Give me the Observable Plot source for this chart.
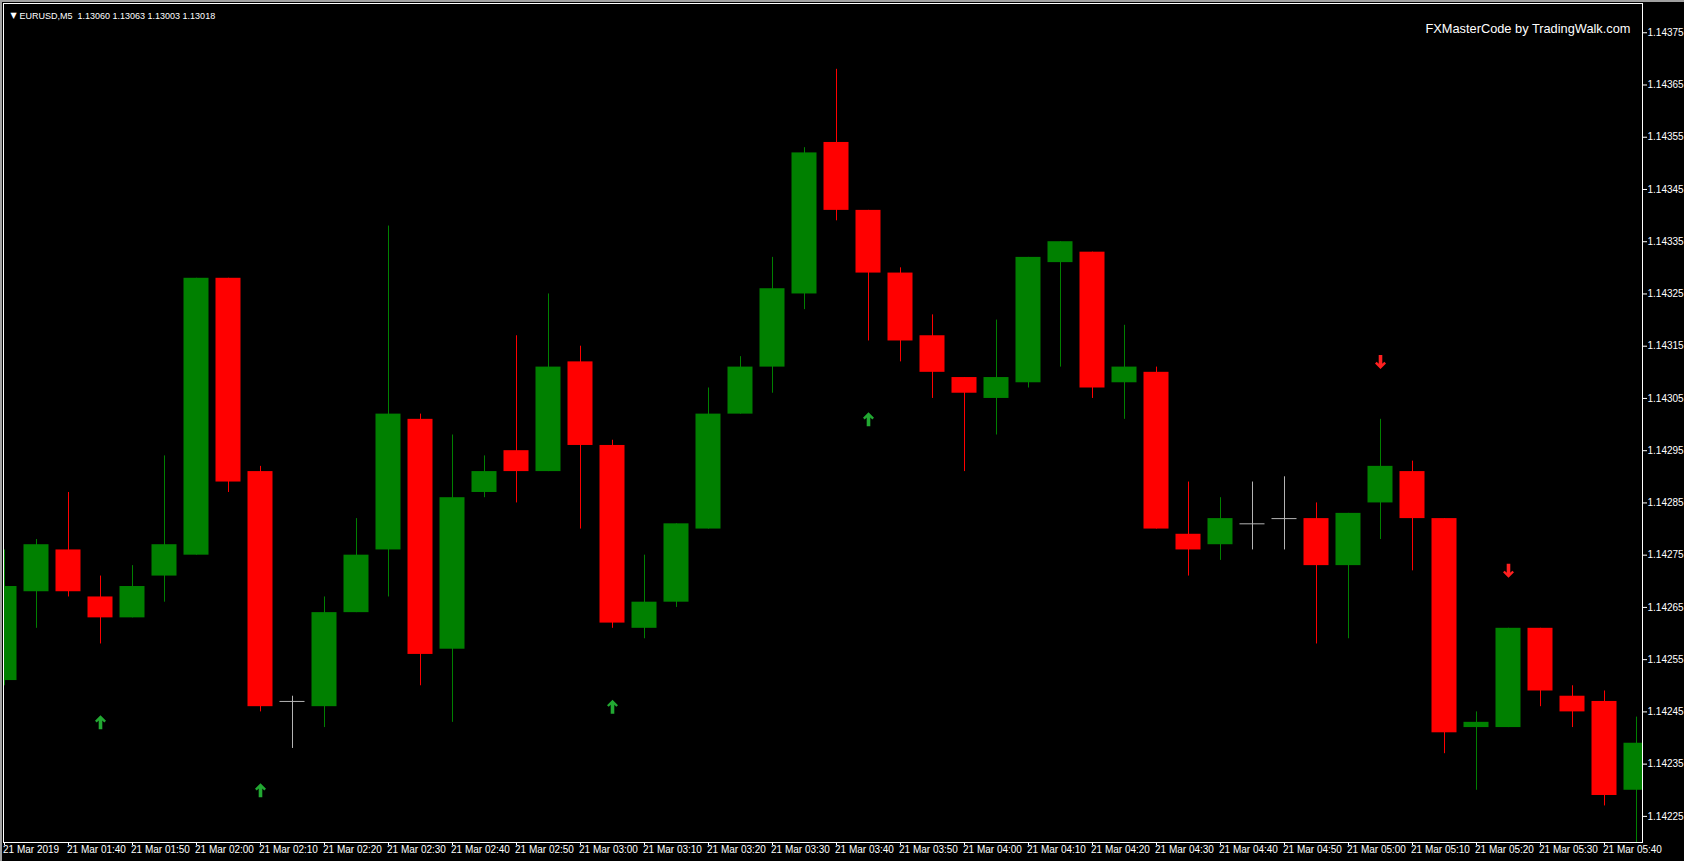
<!DOCTYPE html>
<html><head><meta charset="utf-8">
<script src="https://cdn.jsdelivr.net/npm/d3@7"></script>
<script src="https://cdn.jsdelivr.net/npm/@observablehq/plot@0.6"></script>
<style>
html,body{margin:0;padding:0;background:#000;}
#wrap{position:relative;width:1684px;height:861px;overflow:hidden;background:#000;}
#wrap svg{display:block;}
#edge{position:absolute;left:0;top:0;right:0;bottom:0;border-top:2px solid #a0a0a0;border-left:2px solid #a0a0a0;pointer-events:none;}
</style></head><body>
<div id="wrap"><div id="edge"></div></div>
<script>
// M5 bars, EURUSD, 21 Mar 2019
const times = ["01:30","01:35","01:40","01:45","01:50","01:55","02:00","02:05","02:10","02:15",
  "02:20","02:25","02:30","02:35","02:40","02:45","02:50","02:55","03:00","03:05",
  "03:10","03:15","03:20","03:25","03:30","03:35","03:40","03:45","03:50","03:55",
  "04:00","04:05","04:10","04:15","04:20","04:25","04:30","04:35","04:40","04:45",
  "04:50","04:55","05:00","05:05","05:10","05:15","05:20","05:25","05:30","05:35",
  "05:40","05:45"];
const open = [1.14251,1.14268,1.14276,1.14267,1.14263,1.14271,1.14275,1.14328,1.14291,1.14247,
  1.14246,1.14264,1.14276,1.14301,1.14257,1.14287,1.14295,1.14291,1.14312,1.14296,
  1.14261,1.14266,1.14280,1.14302,1.14311,1.14325,1.14354,1.14341,1.14329,1.14317,
  1.14309,1.14305,1.14308,1.14331,1.14333,1.14308,1.14310,1.14279,1.14277,1.14281,
  1.14282,1.14282,1.14273,1.14285,1.14291,1.14282,1.14242,1.14242,1.14261,1.14248,
  1.14247,1.14230];
const high = [1.14276,1.14278,1.14287,1.14271,1.14273,1.14294,1.14328,1.14328,1.14292,1.14248,
  1.14267,1.14282,1.14338,1.14302,1.14298,1.14294,1.14317,1.14325,1.14315,1.14297,
  1.14275,1.14281,1.14307,1.14313,1.14332,1.14353,1.14368,1.14341,1.14330,1.14321,
  1.14309,1.14320,1.14332,1.14335,1.14333,1.14319,1.14311,1.14289,1.14286,1.14289,
  1.14290,1.14285,1.14283,1.14301,1.14293,1.14282,1.14245,1.14261,1.14261,1.14250,
  1.14249,1.14244];
const low = [1.14250,1.14261,1.14267,1.14258,1.14263,1.14266,1.14275,1.14287,1.14245,1.14238,
  1.14242,1.14264,1.14267,1.14250,1.14243,1.14286,1.14285,1.14291,1.14280,1.14261,
  1.14259,1.14265,1.14280,1.14302,1.14306,1.14322,1.14339,1.14316,1.14312,1.14305,
  1.14291,1.14298,1.14307,1.14311,1.14305,1.14301,1.14280,1.14271,1.14274,1.14276,
  1.14276,1.14258,1.14259,1.14278,1.14272,1.14237,1.14230,1.14242,1.14246,1.14242,
  1.14227,1.14210];
const close = [1.14269,1.14277,1.14268,1.14263,1.14269,1.14277,1.14328,1.14289,1.14246,1.14247,
  1.14264,1.14275,1.14302,1.14256,1.14286,1.14291,1.14291,1.14311,1.14296,1.14262,
  1.14266,1.14281,1.14302,1.14311,1.14326,1.14352,1.14341,1.14329,1.14316,1.14310,
  1.14306,1.14309,1.14332,1.14335,1.14307,1.14311,1.14280,1.14276,1.14282,1.14281,
  1.14282,1.14273,1.14283,1.14292,1.14282,1.14241,1.14243,1.14261,1.14249,1.14245,
  1.14229,1.14239];

// signal arrows (bar index, price level)
const upArrowBars = [3, 8, 19, 27];
const upArrowPrices = [1.14243, 1.14230, 1.14246, 1.14301];
const downArrowBars = [43, 47];
const downArrowPrices = [1.14312, 1.14272];

// axis ticks
const yTicks = [1.14225,1.14235,1.14245,1.14255,1.14265,1.14275,1.14285,1.14295,
  1.14305,1.14315,1.14325,1.14335,1.14345,1.14355,1.14365,1.14375];
const xTickBars = [0,2,4,6,8,10,12,14,16,18,20,22,24,26,28,30,32,34,36,38,40,42,44,46,48,50];
const xTickLabels = ["21 Mar 2019","21 Mar 01:40","21 Mar 01:50","21 Mar 02:00","21 Mar 02:10",
  "21 Mar 02:20","21 Mar 02:30","21 Mar 02:40","21 Mar 02:50","21 Mar 03:00","21 Mar 03:10",
  "21 Mar 03:20","21 Mar 03:30","21 Mar 03:40","21 Mar 03:50","21 Mar 04:00","21 Mar 04:10",
  "21 Mar 04:20","21 Mar 04:30","21 Mar 04:40","21 Mar 04:50","21 Mar 05:00","21 Mar 05:10",
  "21 Mar 05:20","21 Mar 05:30","21 Mar 05:40"];

const headerText = "EURUSD,M5\u00a0 1.13060 1.13063 1.13003 1.13018";
const brandText = "FXMasterCode by TradingWalk.com";

const UP = "#008000", DOWN = "#ff0000", FLAT = "#b4b4b4";
const bars = times.map((t, i) => ({
  i, time: t, open: open[i], high: high[i], low: low[i], close: close[i],
  color: close[i] > open[i] ? UP : close[i] < open[i] ? DOWN : FLAT
}));
const halfW = 0.390625; // body half-width in bar units
const ups = upArrowBars.map((b, k) => ({i: b, p: upArrowPrices[k]}));
const downs = downArrowBars.map((b, k) => ({i: b, p: downArrowPrices[k]}));
const xTicks = xTickBars.map((b, k) => ({i: b, label: xTickLabels[k]}));

const upArrow = {draw(ctx) {
  ctx.moveTo(0, -7); ctx.lineTo(5.5, -1.5); ctx.lineTo(3.8, 0.2); ctx.lineTo(1.8, -1.8);
  ctx.lineTo(1.8, 7); ctx.lineTo(-1.8, 7); ctx.lineTo(-1.8, -1.8); ctx.lineTo(-3.8, 0.2);
  ctx.lineTo(-5.5, -1.5); ctx.closePath();
}};
const downArrow = {draw(ctx) {
  ctx.moveTo(0, 7); ctx.lineTo(5.5, 1.5); ctx.lineTo(3.8, -0.2); ctx.lineTo(1.8, 1.8);
  ctx.lineTo(1.8, -7); ctx.lineTo(-1.8, -7); ctx.lineTo(-1.8, 1.8); ctx.lineTo(-3.8, -0.2);
  ctx.lineTo(-5.5, 1.5); ctx.closePath();
}};

const chart = Plot.plot({
  width: 1684, height: 861,
  marginTop: 3, marginBottom: 19, marginLeft: 3, marginRight: 42,
  style: {background: "#000", color: "#fff", fontFamily: "'Liberation Sans', Arial, sans-serif",
          fontSize: "10px"},
  color: {type: "identity"},
  x: {domain: [-0.03125, 51.1875], axis: "bottom", ticks: xTickBars, tickSize: 3, tickFormat: () => "", label: null},
  y: {domain: [1.1422, 1.143806], axis: "right", ticks: yTicks, tickSize: 4, tickPadding: 1,
      tickFormat: d => d.toFixed(5), label: null},
  marks: [
    Plot.ruleX(bars, {x: "i", y1: "low", y2: "high", stroke: "color", strokeWidth: 1, clip: true}),
    Plot.rect(bars.filter(d => d.color !== FLAT), {
      x1: d => d.i - halfW, x2: d => d.i + halfW, y1: "open", y2: "close", fill: "color", clip: true}),
    Plot.ruleY(bars.filter(d => d.color === FLAT), {
      y: "open", x1: d => d.i - halfW, x2: d => d.i + halfW, stroke: FLAT, strokeWidth: 1, clip: true}),
    Plot.dot(ups, {x: "i", y: "p", symbol: upArrow, fill: "#22a832", stroke: "none"}),
    Plot.dot(downs, {x: "i", y: "p", symbol: downArrow, fill: "#ff2020", stroke: "none"}),
    Plot.frame({stroke: "#fff"}),
    Plot.text(xTicks, {x: "i", text: "label", frameAnchor: "bottom", dx: -1.5, dy: 10, textAnchor: "start", fill: "#fff", fontSize: 10}),
    Plot.text(["\u25BC"], {frameAnchor: "top-left", dx: 7, dy: 8.5, text: d => d, fill: "#fff", fontSize: 8, fontFamily: "DejaVu Sans"}),
    Plot.text([headerText], {frameAnchor: "top-left", dx: 16, dy: 8.7, text: d => d, textAnchor: "start", fill: "#fff", fontSize: 9}),
    Plot.text([brandText], {frameAnchor: "top-right", dx: -12, dy: 20, text: d => d, textAnchor: "end", fill: "#fff", fontSize: 12.8})
  ]
});
document.getElementById("wrap").appendChild(chart);
</script>
</body></html>
